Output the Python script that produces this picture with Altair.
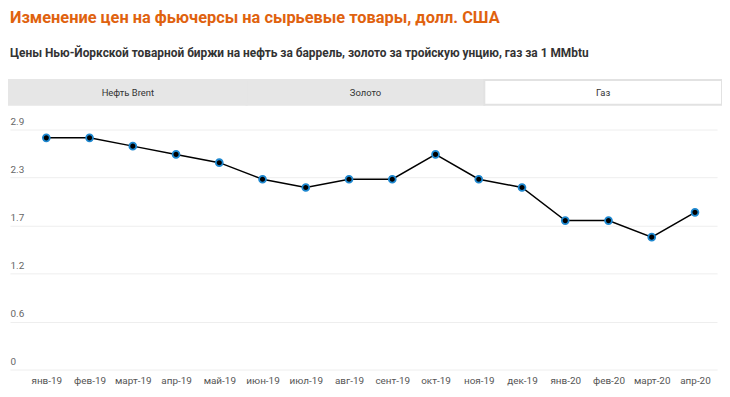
import json
import altair as alt
import pandas as pd

months = ["янв-19", "фев-19", "март-19", "апр-19", "май-19", "июн-19", "июл-19", "авг-19",
          "сент-19", "окт-19", "ноя-19", "дек-19", "янв-20", "фев-20", "март-20", "апр-20"]
gas = [2.8, 2.8, 2.7, 2.6, 2.5, 2.3, 2.2, 2.3, 2.3, 2.6, 2.3, 2.2, 1.8, 1.8, 1.6, 1.9]
y_ticks = [0, 0.58, 1.16, 1.74, 2.32, 2.9]
tabs = ["Нефть Brent", "Золото", "Газ"]
active_tab = "Газ"

title = "Изменение цен на фьючерсы на сырьевые товары, долл. США"
subtitle = "Цены Нью-Йоркской товарной биржи на нефть за баррель, золото за тройскую унцию, газ за 1 MMbtu"

df = pd.DataFrame({"i": list(range(len(months))), "month": months, "value": gas})
tab_df = pd.DataFrame({"tab": tabs})

FONT = "Roboto"

x_enc = alt.X("i:Q",
              scale=alt.Scale(domain=[-0.84, 15.51], nice=False, zero=False),
              axis=alt.Axis(values=list(range(len(months))),
                            labelExpr=json.dumps(months, ensure_ascii=False) + "[datum.value]",
                            grid=False, domain=False, ticks=False, labelPadding=6,
                            labelFontSize=10, labelColor="#555", labelFont=FONT,
                            labelFlush=False, title=None))
y_enc = alt.Y("value:Q",
              scale=alt.Scale(domain=[0, 2.9], nice=False),
              axis=alt.Axis(values=y_ticks,
                            labelExpr="datum.value == 0 ? '0' : format(datum.value, '.1f')",
                            domain=False, ticks=False, tickSize=0, labelPadding=0,
                            labelAlign="left", labelBaseline="bottom", labelOffset=-3,
                            labelFontSize=10, labelColor="#666", labelFont=FONT,
                            gridColor="#eeeeee", gridWidth=1, title=None))

line = alt.Chart(df).mark_line(color="black", strokeWidth=1.5).encode(x=x_enc, y=y_enc)
pts = alt.Chart(df).mark_point(filled=False, fill="black", stroke="#1e88d0", strokeWidth=1.8,
                               size=48, opacity=1, fillOpacity=1).encode(x=x_enc, y=y_enc)

tab_x = alt.X("tab:N", sort=tabs,
              scale=alt.Scale(domain=tabs, range=[-1, 718], paddingInner=0, paddingOuter=0),
              axis=None)
tab_rect = alt.Chart(tab_df).mark_rect(strokeWidth=2).encode(
    x=tab_x,
    y=alt.value(-50),
    y2=alt.value(-25),
    fill=alt.condition(alt.datum.tab == active_tab, alt.value("white"), alt.value("#e6e6e6")),
    stroke=alt.condition(alt.datum.tab == active_tab, alt.value("#e2e2e2"), alt.value("#e6e6e6")),
)
tab_text = alt.Chart(tab_df).mark_text(font=FONT, fontSize=9.5, color="#333").encode(
    x=tab_x, y=alt.value(-37), text="tab:N")
tabs_layer = alt.layer(tab_rect, tab_text)

main = alt.layer(line, pts)

chart = alt.layer(tabs_layer, main).resolve_scale(x="independent").properties(
    width=713, height=242,
    autosize=alt.AutoSizeParams(type="none"),
    padding={"left": 2, "top": 121, "right": 5, "bottom": 18},
    title=alt.TitleParams(text=title, subtitle=subtitle, anchor="start", frame="group",
                          font=FONT, fontSize=16.5, fontWeight="bold", color="#e0620e",
                          subtitleFont=FONT, subtitleFontSize=12, subtitleFontWeight="bold",
                          subtitleColor="#333", subtitlePadding=22, offset=20),
).configure_view(stroke=None)

chart.save("out.html", embed_options={"renderer": "svg", "actions": False})
